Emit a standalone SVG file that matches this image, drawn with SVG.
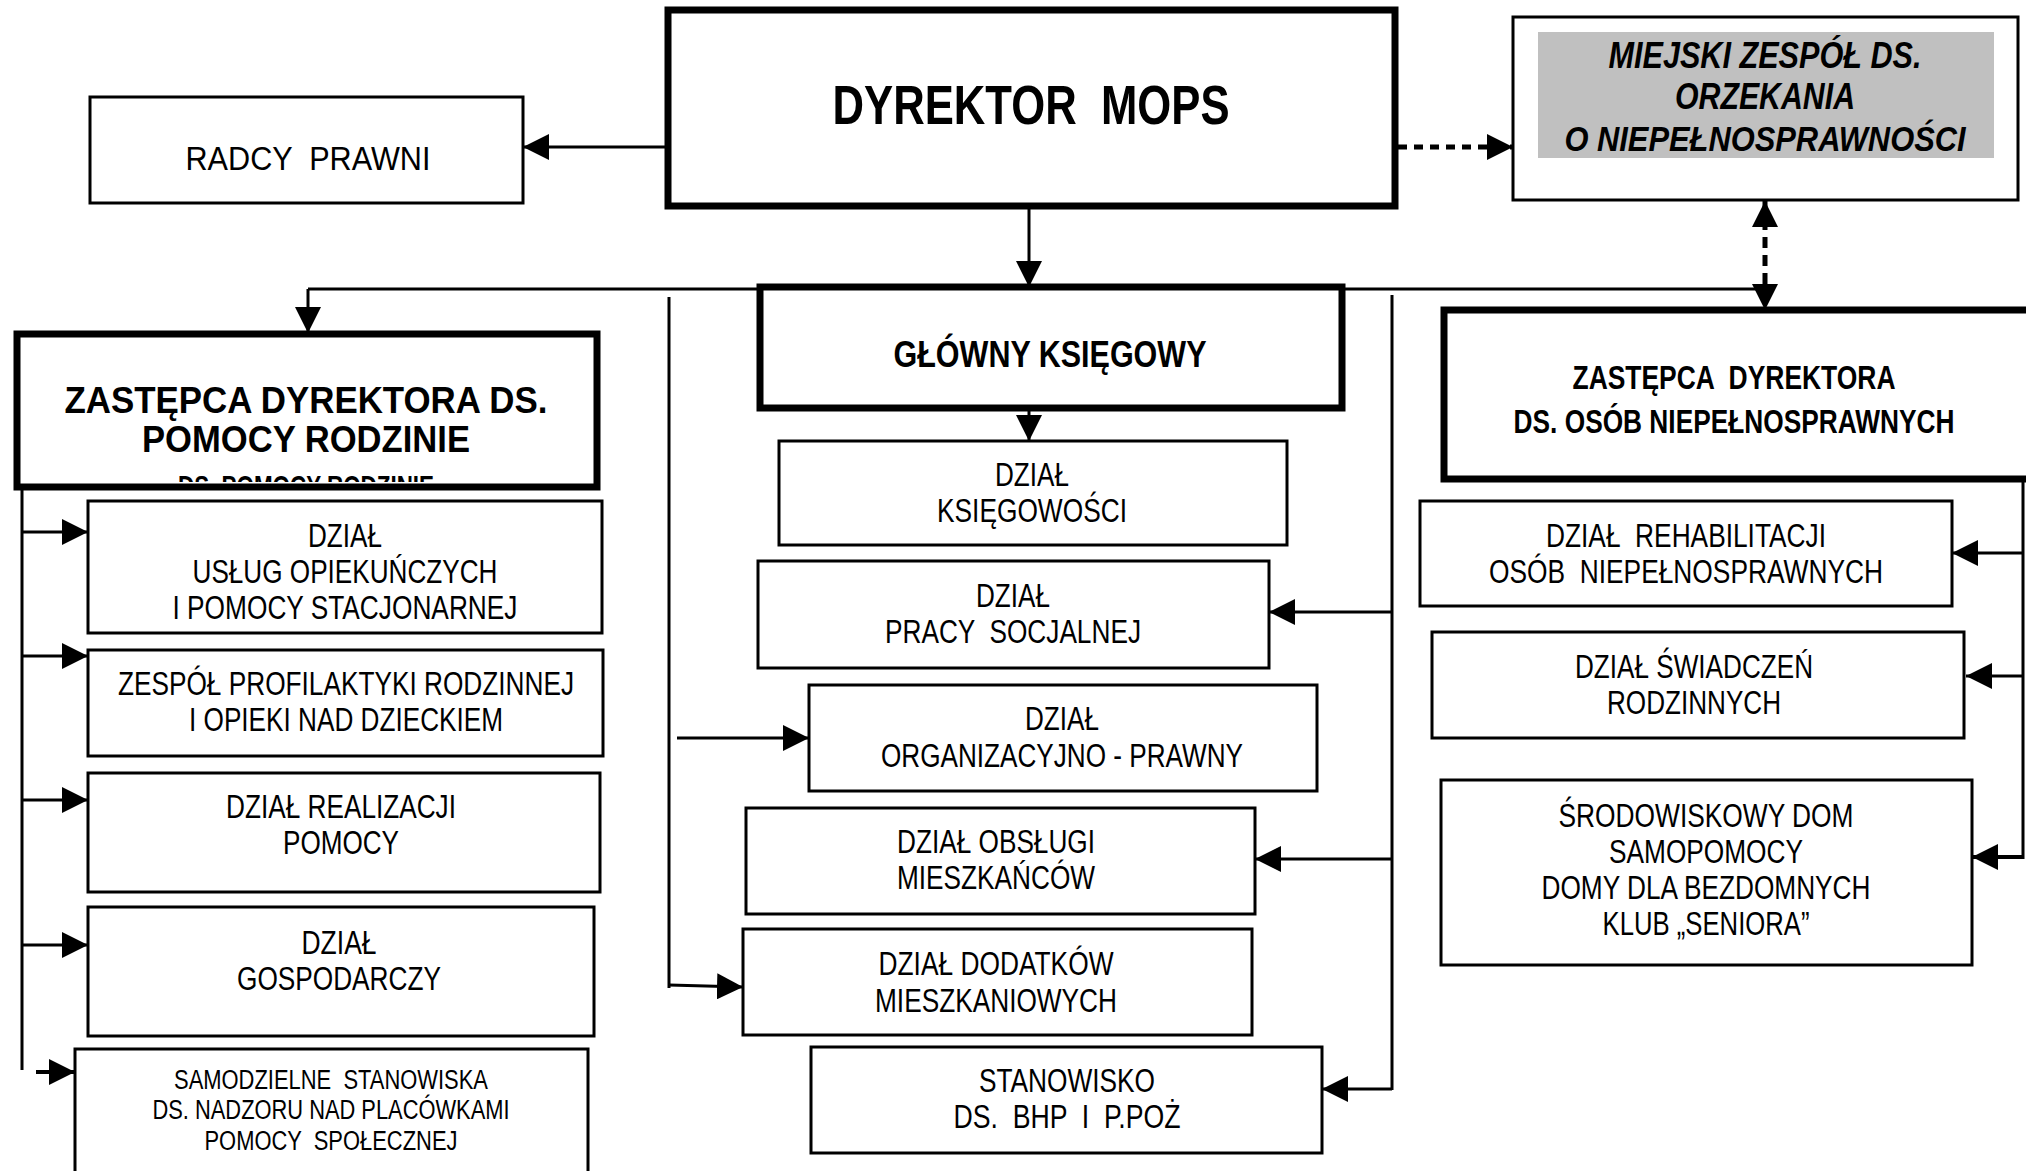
<svg xmlns="http://www.w3.org/2000/svg" width="2026" height="1171" viewBox="0 0 2026 1171" xml:space="preserve">
<style>
.box{fill:#fff;stroke:#000;stroke-width:3}
.thick{fill:#fff;stroke:#000;stroke-width:7}
.t{font-family:"Liberation Sans Narrow","Liberation Sans",Arial,sans-serif;font-size:33px;fill:#000;text-anchor:middle;white-space:pre}
.b{font-family:"Liberation Sans Narrow","Liberation Sans",Arial,sans-serif;font-weight:bold;fill:#000;text-anchor:middle;white-space:pre}
.bi{font-family:"Liberation Sans Narrow","Liberation Sans",Arial,sans-serif;font-weight:bold;font-style:italic;font-size:36px;fill:#000;text-anchor:middle}
.s{font-family:"Liberation Sans Narrow","Liberation Sans",Arial,sans-serif;font-size:27px;fill:#000;text-anchor:middle;white-space:pre}
.c{fill:none;stroke:#000;stroke-width:3}
.ca{fill:none;stroke:#000;stroke-width:3;marker-end:url(#ah)}
</style>
<defs>
<marker id="ah" viewBox="0 0 10 10" refX="10" refY="5" markerWidth="26" markerHeight="26" markerUnits="userSpaceOnUse" orient="auto-start-reverse"><path d="M0,0 L10,5 L0,10 z" fill="#000"/></marker>
<clipPath id="clipZ"><rect x="20" y="337" width="573" height="145"/></clipPath>
</defs>
<rect width="2026" height="1171" fill="#fff"/>

<g id="connectors">
<line class="ca" x1="668" y1="147" x2="523" y2="147"/>
<line x1="1398" y1="147" x2="1513" y2="147" stroke="#000" stroke-width="5" stroke-dasharray="9 7" marker-end="url(#ah)"/>
<line x1="1765" y1="201" x2="1765" y2="310" stroke="#000" stroke-width="5" stroke-dasharray="11 7" marker-start="url(#ah)" marker-end="url(#ah)"/>
<line class="c" x1="308" y1="289" x2="1765" y2="289"/>
<line class="ca" x1="1029" y1="200" x2="1029" y2="287"/>
<line class="ca" x1="308" y1="289" x2="308" y2="333"/>
<line class="ca" x1="1029" y1="408" x2="1029" y2="441"/>
<line class="c" x1="669" y1="297" x2="669" y2="988"/>
<line class="ca" x1="677" y1="738" x2="809" y2="738"/>
<line class="ca" x1="669" y1="985" x2="743" y2="987"/>
<line class="c" x1="1392" y1="295" x2="1392" y2="1090"/>
<line class="ca" x1="1392" y1="612" x2="1269" y2="612"/>
<line class="ca" x1="1392" y1="859" x2="1255" y2="859"/>
<line class="ca" x1="1392" y1="1089" x2="1322" y2="1089"/>
<line class="c" x1="22" y1="446" x2="22" y2="1070"/>
<line class="ca" x1="22" y1="532" x2="88" y2="532"/>
<line class="ca" x1="22" y1="656" x2="88" y2="656"/>
<line class="ca" x1="22" y1="800" x2="88" y2="800"/>
<line class="ca" x1="22" y1="945" x2="88" y2="945"/>
<line x1="36" y1="1072" x2="75" y2="1072" stroke="#000" stroke-width="4" marker-end="url(#ah)"/>
<line class="c" x1="2023" y1="479" x2="2023" y2="859"/>
<line class="ca" x1="2023" y1="553" x2="1952" y2="553"/>
<line class="ca" x1="2023" y1="676" x2="1966" y2="676"/>
<line x1="2023" y1="857" x2="1972" y2="857" stroke="#000" stroke-width="4" marker-end="url(#ah)"/>
</g>

<g id="dyrektor">
<rect class="thick" x="668" y="10" width="727" height="196"/>
<text class="b" x="1031" y="124" font-size="56" textLength="397" lengthAdjust="spacingAndGlyphs">DYREKTOR  MOPS</text>
</g>

<g id="radcy">
<rect class="box" x="90" y="97" width="433" height="106"/>
<text class="t" x="308" y="170" font-size="35" textLength="245" lengthAdjust="spacingAndGlyphs">RADCY  PRAWNI</text>
</g>

<g id="miejski">
<rect class="box" x="1513" y="17" width="505" height="183"/>
<rect x="1538" y="32" width="456" height="126" fill="#c0c0c0"/>
<text class="bi" x="1765" y="68" textLength="313" lengthAdjust="spacingAndGlyphs">MIEJSKI ZESPÓŁ DS.</text>
<text class="bi" x="1765" y="109" textLength="180" lengthAdjust="spacingAndGlyphs">ORZEKANIA</text>
<text class="bi" transform="translate(1765,151) scale(0.85,1)" x="0" y="0" textLength="472" lengthAdjust="spacingAndGlyphs">O NIEPEŁNOSPRAWNOŚCI</text>
</g>

<g id="glowny">
<rect class="thick" x="760" y="287" width="582" height="121"/>
<text class="b" x="1050" y="367" font-size="37" textLength="313" lengthAdjust="spacingAndGlyphs">GŁÓWNY KSIĘGOWY</text>
</g>

<g id="zastepca-pr">
<rect class="thick" x="17" y="334" width="580" height="153"/>
<text class="b" x="306" y="413" font-size="36" textLength="483" lengthAdjust="spacingAndGlyphs">ZASTĘPCA DYREKTORA DS.</text>
<text class="b" x="306" y="452" font-size="36" textLength="328" lengthAdjust="spacingAndGlyphs">POMOCY RODZINIE</text>
<text class="b" x="306" y="496" font-size="30" textLength="256" lengthAdjust="spacingAndGlyphs" clip-path="url(#clipZ)">DS. POMOCY RODZINIE</text>
</g>

<g id="zastepca-on">
<rect class="thick" x="1444" y="310" width="590" height="169"/>
<text class="b" x="1734" y="389" font-size="33" textLength="323" lengthAdjust="spacingAndGlyphs">ZASTĘPCA  DYREKTORA</text>
<text class="b" transform="translate(1734,433) scale(0.76,1)" x="0" y="0" font-size="33" textLength="580" lengthAdjust="spacingAndGlyphs">DS. OSÓB NIEPEŁNOSPRAWNYCH</text>
</g>

<g id="ksiegowosci">
<rect class="box" x="779" y="441" width="508" height="104"/>
<text class="t" x="1032" y="486" textLength="74" lengthAdjust="spacingAndGlyphs">DZIAŁ</text>
<text class="t" x="1032" y="522" textLength="190" lengthAdjust="spacingAndGlyphs">KSIĘGOWOŚCI</text>
</g>

<g id="pracy-socjalnej">
<rect class="box" x="758" y="561" width="511" height="107"/>
<text class="t" x="1013" y="607" textLength="74" lengthAdjust="spacingAndGlyphs">DZIAŁ</text>
<text class="t" x="1013" y="643" textLength="256" lengthAdjust="spacingAndGlyphs">PRACY  SOCJALNEJ</text>
</g>

<g id="organizacyjno">
<rect class="box" x="809" y="685" width="508" height="106"/>
<text class="t" x="1062" y="730" textLength="74" lengthAdjust="spacingAndGlyphs">DZIAŁ</text>
<text class="t" x="1062" y="767" textLength="362" lengthAdjust="spacingAndGlyphs">ORGANIZACYJNO - PRAWNY</text>
</g>

<g id="obslugi">
<rect class="box" x="746" y="808" width="509" height="106"/>
<text class="t" x="996" y="853" textLength="198" lengthAdjust="spacingAndGlyphs">DZIAŁ OBSŁUGI</text>
<text class="t" x="996" y="889" textLength="198" lengthAdjust="spacingAndGlyphs">MIESZKAŃCÓW</text>
</g>

<g id="dodatkow">
<rect class="box" x="743" y="929" width="509" height="106"/>
<text class="t" x="996" y="975" textLength="235" lengthAdjust="spacingAndGlyphs">DZIAŁ DODATKÓW</text>
<text class="t" x="996" y="1012" textLength="242" lengthAdjust="spacingAndGlyphs">MIESZKANIOWYCH</text>
</g>

<g id="bhp">
<rect class="box" x="811" y="1047" width="511" height="106"/>
<text class="t" x="1067" y="1092" textLength="176" lengthAdjust="spacingAndGlyphs">STANOWISKO</text>
<text class="t" x="1067" y="1128" textLength="227" lengthAdjust="spacingAndGlyphs">DS.  BHP  I  P.POŻ</text>
</g>

<g id="uslug">
<rect class="box" x="88" y="501" width="514" height="132"/>
<text class="t" x="345" y="547" textLength="74" lengthAdjust="spacingAndGlyphs">DZIAŁ</text>
<text class="t" x="345" y="583" textLength="305" lengthAdjust="spacingAndGlyphs">USŁUG OPIEKUŃCZYCH</text>
<text class="t" x="345" y="619" textLength="345" lengthAdjust="spacingAndGlyphs">I POMOCY STACJONARNEJ</text>
</g>

<g id="zespol">
<rect class="box" x="88" y="650" width="515" height="106"/>
<text class="t" x="346" y="695" textLength="456" lengthAdjust="spacingAndGlyphs">ZESPÓŁ PROFILAKTYKI RODZINNEJ</text>
<text class="t" x="346" y="731" textLength="314" lengthAdjust="spacingAndGlyphs">I OPIEKI NAD DZIECKIEM</text>
</g>

<g id="realizacji">
<rect class="box" x="88" y="773" width="512" height="119"/>
<text class="t" x="341" y="818" textLength="230" lengthAdjust="spacingAndGlyphs">DZIAŁ REALIZACJI</text>
<text class="t" x="341" y="854" textLength="116" lengthAdjust="spacingAndGlyphs">POMOCY</text>
</g>

<g id="gospodarczy">
<rect class="box" x="88" y="907" width="506" height="129"/>
<text class="t" x="339" y="954" textLength="75" lengthAdjust="spacingAndGlyphs">DZIAŁ</text>
<text class="t" x="339" y="990" textLength="204" lengthAdjust="spacingAndGlyphs">GOSPODARCZY</text>
</g>

<g id="samodzielne">
<rect class="box" x="75" y="1049" width="513" height="130"/>
<text class="s" x="331" y="1089" textLength="314" lengthAdjust="spacingAndGlyphs">SAMODZIELNE  STANOWISKA</text>
<text class="s" x="331" y="1119" textLength="357" lengthAdjust="spacingAndGlyphs">DS. NADZORU NAD PLACÓWKAMI</text>
<text class="s" x="331" y="1150" textLength="253" lengthAdjust="spacingAndGlyphs">POMOCY  SPOŁECZNEJ</text>
</g>

<g id="rehabilitacji">
<rect class="box" x="1420" y="501" width="532" height="105"/>
<text class="t" x="1686" y="547" textLength="280" lengthAdjust="spacingAndGlyphs">DZIAŁ  REHABILITACJI</text>
<text class="t" x="1686" y="583" textLength="394" lengthAdjust="spacingAndGlyphs">OSÓB  NIEPEŁNOSPRAWNYCH</text>
</g>

<g id="swiadczen">
<rect class="box" x="1432" y="632" width="532" height="106"/>
<text class="t" x="1694" y="678" textLength="238" lengthAdjust="spacingAndGlyphs">DZIAŁ ŚWIADCZEŃ</text>
<text class="t" x="1694" y="714" textLength="174" lengthAdjust="spacingAndGlyphs">RODZINNYCH</text>
</g>

<g id="srodowiskowy">
<rect class="box" x="1441" y="780" width="531" height="185"/>
<text class="t" x="1706" y="827" textLength="295" lengthAdjust="spacingAndGlyphs">ŚRODOWISKOWY DOM</text>
<text class="t" x="1706" y="863" textLength="194" lengthAdjust="spacingAndGlyphs">SAMOPOMOCY</text>
<text class="t" x="1706" y="899" textLength="329" lengthAdjust="spacingAndGlyphs">DOMY DLA BEZDOMNYCH</text>
<text class="t" x="1706" y="935" textLength="207" lengthAdjust="spacingAndGlyphs">KLUB „SENIORA”</text>
</g>
</svg>
